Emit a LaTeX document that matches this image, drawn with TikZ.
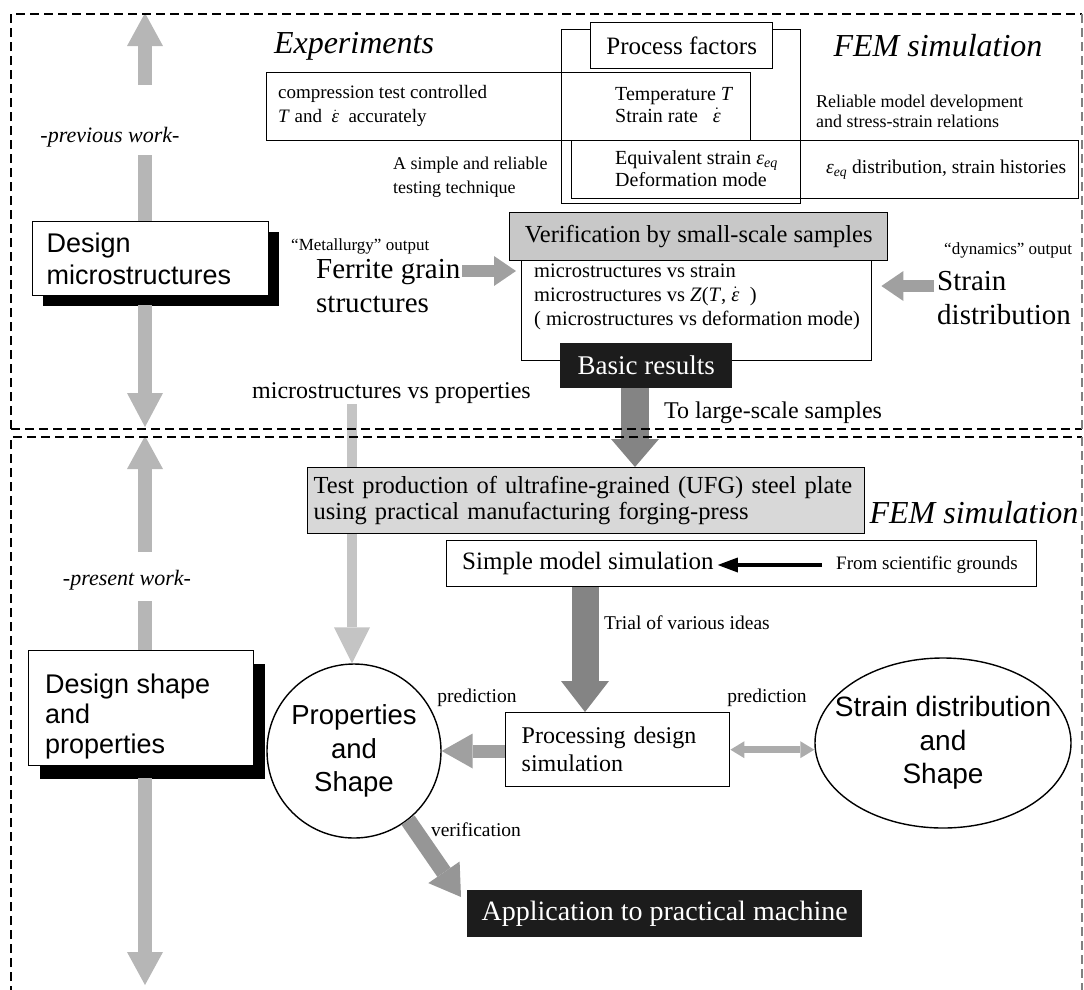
\documentclass[tikz,border=0pt]{standalone}
\usepackage{fontspec}
\setmainfont{Liberation Serif}
\setsansfont{Liberation Sans}
\usetikzlibrary{arrows.meta,shadows,shapes.geometric}
\newcommand{\myfs}[2]{\fontsize{#1}{#2}\selectfont}
\newcommand{\edot}{$\dot{\hbox{\itshape ε}}$}
\definecolor{arrA}{RGB}{182,182,182}
\definecolor{arrF}{RGB}{160,160,160}
\definecolor{arrL}{RGB}{196,196,196}
\definecolor{arrD}{RGB}{132,132,132}
\definecolor{arrP}{RGB}{160,160,160}
\definecolor{arrQ}{RGB}{172,172,172}
\definecolor{arrV}{RGB}{150,150,150}
\definecolor{vgray}{RGB}{200,200,200}
\definecolor{tgray}{RGB}{216,216,216}
\definecolor{dark}{RGB}{28,28,28}
\begin{document}
\begin{tikzpicture}[x=1pt,y=-1pt,
  box/.style={draw, line width=1.4pt, inner sep=0pt},
  txt/.style={inner sep=0pt, align=left, anchor=west},
  barrow/.style n args={4}{#1, line width=#2, -{Triangle[width=#3,length=#4,line width=0pt]}},
  dframe/.style={line width=1.7pt, dash pattern=on 9pt off 5pt},
  rframe/.style={line width=1.1pt, gray, dash pattern=on 9pt off 5pt},
]
\useasboundingbox (0,0) rectangle (1084,989);

% ---------- left column ----------
\node[box, fill=white, drop shadow={fill=black, opacity=1, shadow xshift=10pt, shadow yshift=-10pt},
      anchor=north west, minimum width=236pt, minimum height=74pt, text width=208pt, inner xsep=14pt,
      align=left, font=\sffamily\myfs{27}{32}] (dm) at (32,221) {Design\\microstructures};
\coordinate (a1tip) at (145,13);
\coordinate (a1gt) at (145,85);
\coordinate (a1gb) at (145,155);
\node[inner sep=0pt, font=\itshape\myfs{22}{26}] (prev) at (110,137) {-previous work-};
\draw[barrow={arrA}{14pt}{36pt}{33pt}] (a1gt) -- (a1tip);
\draw[arrA, line width=14pt] (dm.north -| a1tip) -- (a1gb);
\coordinate (a2s) at (145,305);
\coordinate (a2tip) at (145,427);
\draw[barrow={arrA}{14pt}{36pt}{34pt}] (a2s) -- (a2tip);

\node[box, fill=white, drop shadow={fill=black, opacity=1, shadow xshift=11pt, shadow yshift=-13pt},
      anchor=north west, minimum width=225pt, minimum height=115pt] (dsp) at (28,650) {};
\node[txt, font=\sffamily\myfs{27}{30}] (dspt) at (45,717) {Design shape\\and\\properties};
\coordinate (a3tip) at (145,436);
\coordinate (a3gt) at (145,552);
\coordinate (a3gb) at (145,601);
\node[inner sep=0pt, font=\itshape\myfs{22}{26}] (pres) at (127,580) {-present work-};
\draw[barrow={arrA}{14pt}{36pt}{33pt}] (a3gt) -- (a3tip);
\draw[arrA, line width=14pt] (dsp.north -| a3tip) -- (a3gb);
\coordinate (a4s) at (145,778);
\coordinate (a4tip) at (145,985);
\draw[barrow={arrA}{14pt}{36pt}{33pt}] (a4s) -- (a4tip);

% ---------- experiments / process factors / FEM ----------
\node[inner sep=0pt, font=\itshape\myfs{32}{36}] (exp) at (354,46) {Experiments};
\node[box, anchor=north west, minimum width=484pt, minimum height=68pt] (comp) at (266,72) {};
\node[txt, font=\myfs{19}{24}] (compt) at (278,106) {compression test controlled\\\textit{T} and\ \ \edot\ \ accurately};
\node[box, anchor=north west, minimum width=239pt, minimum height=174pt] (pff) at (561,29) {};
\node[box, fill=white, anchor=north west, minimum width=182pt, minimum height=46pt,
      font=\myfs{25}{30}] (pf) at (590,22) {Process factors};
\node[txt, font=\myfs{20}{22}] (temp) at (615,105) {Temperature \textit{T}\\Strain rate\ \ \ \edot};
\node[box, anchor=north west, minimum width=507pt, minimum height=58pt] (eqb) at (571,140) {};
\node[txt, font=\myfs{20}{22}] (eqt) at (615,169) {Equivalent strain \textit{ε\textsubscript{eq}}\\Deformation mode};
\node[txt, font=\myfs{19.5}{24}] (eqd) at (826,170) {\textit{ε\textsubscript{eq}} distribution, strain histories};
\node[txt, font=\myfs{18}{24}] (simp) at (393,177) {A simple and reliable\\testing technique};
\node[inner sep=0pt, font=\itshape\myfs{32}{36}] (fem1) at (938,46) {FEM simulation};
\node[txt, font=\myfs{18}{20}] (rel) at (816,111) {Reliable model development\\and stress-strain relations};

% ---------- verification ----------
\node[box, anchor=north west, minimum width=350pt, minimum height=100pt] (vlow) at (521,260) {};
\node[txt, font=\myfs{20.5}{24}] (vtxt) at (534,297)
      {microstructures vs strain\\microstructures vs {\itshape Z\/}({\itshape T\/},\ \edot\ \ )\\( microstructures vs deformation mode)};
\node[box, fill=vgray, anchor=north west, minimum width=378pt, minimum height=48pt,
      font=\myfs{24.5}{28}] (vhead) at (509,212) {Verification by small-scale samples};
\node[fill=dark, text=white, anchor=north west, minimum width=172pt, minimum height=45pt, inner sep=0pt,
      font=\myfs{27}{30}] (basic) at (560,343) {Basic results};

\node[txt, font=\myfs{17}{20}] (metl) at (291,246) {“Metallurgy” output};
\node[txt, font=\myfs{29}{34}] (ferr) at (316,286) {Ferrite grain\\structures};
\coordinate (fa) at (462,271);
\draw[barrow={arrF}{12pt}{30pt}{22pt}, shorten >=5pt] (fa) -- (vlow.west |- fa);

\node[txt, font=\myfs{17}{20}] (dyn) at (944,250) {“dynamics” output};
\node[txt, font=\myfs{29}{34}] (sd) at (937,298) {Strain\\distribution};
\coordinate (sa) at (934,286);
\draw[barrow={arrF}{12pt}{30pt}{22pt}, shorten >=9pt] (sa) -- (vlow.east |- sa);

\node[txt, font=\myfs{24}{28}] (mvp) at (252,393) {microstructures vs properties};

% ---------- present work ----------
\node[circle, draw, line width=1.4pt, minimum size=174pt, inner sep=0pt, align=center,
      font=\sffamily\myfs{27.5}{33.5}] (pc) at (354,751) {Properties\\and\\Shape};
\coordinate (lp) at (352,404);
\draw[barrow={arrL}{10pt}{36pt}{36pt}] (lp) -- (pc.north -| lp);

\node[box, fill=tgray, anchor=north west, minimum width=557pt, minimum height=66pt, text width=545pt,
      inner xsep=6pt, align=left, font=\myfs{24.5}{26}] (test) at (307,467)
      {Test production of ultrafine-grained (UFG) steel plate\\using practical manufacturing forging-press};
\coordinate (dx) at (635,0);
\draw[barrow={arrD}{28pt}{48pt}{28pt}] (basic.south -| dx) -- (test.north -| dx);
\node[txt, font=\myfs{24}{28}] (large) at (664,413) {To large-scale samples};

\node[inner sep=0pt, font=\itshape\myfs{32}{36}] (fem2) at (974,513) {FEM simulation};

\node[box, anchor=north west, minimum width=590pt, minimum height=46pt] (smb) at (446,540) {};
\node[txt, font=\myfs{25}{28}] (smt) at (462,563) {Simple model simulation};
\node[txt, font=\myfs{19}{22}] (sci) at (836,565) {From scientific grounds};
\draw[line width=4pt, -{Triangle[width=15pt,length=20pt,line width=0pt]}, shorten <=14pt, shorten >=4pt]
      (sci.west) -- (smt.east |- sci.west);

\node[box, anchor=north west, minimum width=208pt, minimum height=74pt, text width=192pt, inner xsep=16pt,
      align=left, font=\myfs{24}{28}] (proc) at (505,712) {Processing design\\simulation};
\coordinate (tx) at (585,0);
\draw[barrow={arrD}{27pt}{48pt}{31pt}] (smb.south -| tx) -- (proc.north -| tx);
\node[txt, font=\myfs{19.5}{22}] (trial) at (604,623) {Trial of various ideas};

\node[ellipse, draw, line width=1.4pt, minimum width=256pt, minimum height=170pt, inner sep=0pt,
      label={[font=\sffamily\myfs{28}{33.5}, align=center]center:{Strain distribution\\and\\Shape}}] (sdd) at (943,743) {};

\draw[barrow={arrP}{13pt}{35pt}{31pt}] (pc.east -| proc.west) -- (pc.east);
\draw[arrQ, line width=7pt, {Triangle[width=17pt,length=14pt,line width=0pt]}-{Triangle[width=17pt,length=14pt,line width=0pt]}]
      (proc.east) -- (proc.east -| sdd.west);
\node[inner sep=0pt, font=\myfs{19.5}{22}] (pred1) at (477,698) {prediction};
\node[inner sep=0pt, font=\myfs{19.5}{22}] (pred2) at (767,698) {prediction};

\node[fill=dark, text=white, anchor=north west, minimum width=395pt, minimum height=47pt, inner sep=0pt,
      font=\myfs{28}{32}] (app) at (467,890) {Application to practical machine};
\coordinate (vtip) at (461,897);
\draw[barrow={arrV}{16pt}{38pt}{30pt}] (pc.-52) -- (vtip);
\node[inner sep=0pt, font=\myfs{19.5}{22}] (verif) at (476,830) {verification};

% ---------- frames ----------
\coordinate (f1) at (11,14);
\coordinate (f2) at (1082,429);
\coordinate (f3) at (11,437);
\coordinate (f4) at (1082,995);
\draw[dframe] (f1 |- f2) -- (f1) -- (f2 |- f1);
\draw[dframe] (f1 |- f2) -- (f2);
\draw[rframe] (f2 |- f1) -- (f2);
\draw[dframe] (f3 |- f4) -- (f3) -- (f4 |- f3);
\draw[rframe] (f4 |- f3) -- (f4);
\end{tikzpicture}
\end{document}
